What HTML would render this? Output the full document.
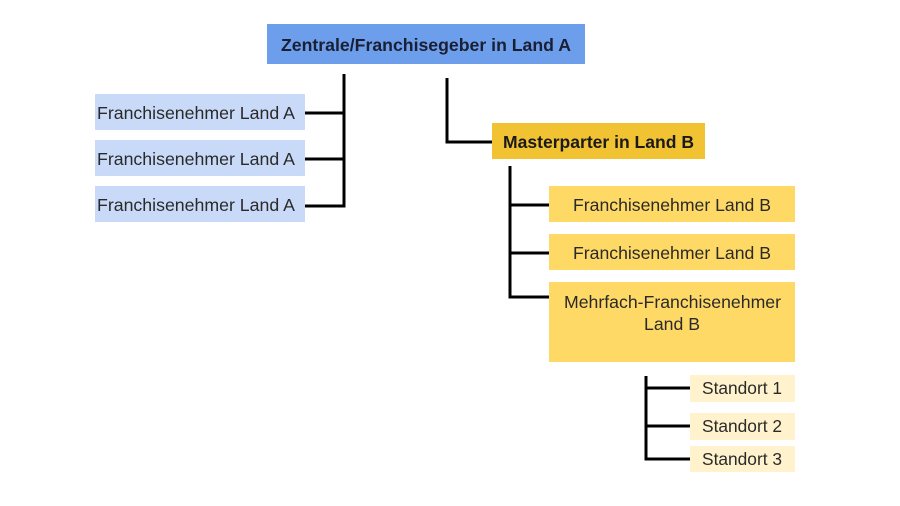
<!DOCTYPE html>
<html><head><meta charset="utf-8"><style>
html,body{margin:0;padding:0;background:#fff;}
svg{display:block;}
text{font-family:"Liberation Sans",Arial,sans-serif;fill:#2a2a2a;font-size:17.5px;}
</style></head><body>
<svg width="900" height="506" viewBox="0 0 900 506" xmlns="http://www.w3.org/2000/svg">
<rect x="267" y="24" width="318" height="40" fill="#6d9eeb"/>
<text x="281" y="51" textLength="290" lengthAdjust="spacingAndGlyphs" font-weight="bold" style="fill:#1a1f33">Zentrale/Franchisegeber in Land A</text>

<rect x="95" y="94" width="210" height="36" fill="#c9daf8"/>
<rect x="95" y="140" width="210" height="36" fill="#c9daf8"/>
<rect x="95" y="186" width="210" height="36" fill="#c9daf8"/>
<text x="97" y="119" textLength="198" lengthAdjust="spacingAndGlyphs">Franchisenehmer Land A</text>
<text x="97" y="165" textLength="198" lengthAdjust="spacingAndGlyphs">Franchisenehmer Land A</text>
<text x="97" y="211" textLength="198" lengthAdjust="spacingAndGlyphs">Franchisenehmer Land A</text>
<g stroke="#000" stroke-width="3" fill="none">
<path d="M344 74 V206 H305"/>
<path d="M305 113 H344"/>
<path d="M305 159 H344"/>
<path d="M447 78 V142 H492"/>
<path d="M510 166 V297 H549"/>
<path d="M510 205 H549"/>
<path d="M510 253 H549"/>
<path d="M646 376 V459 H690"/>
<path d="M646 388 H690"/>
<path d="M646 426 H690"/>
</g>

<rect x="492" y="123" width="213" height="36" fill="#f1c232"/>
<text x="503" y="148" textLength="191" lengthAdjust="spacingAndGlyphs" font-weight="bold" style="fill:#1a1a1a">Masterparter in Land B</text>

<rect x="549" y="186" width="246" height="36" fill="#ffd966"/>
<rect x="549" y="234" width="246" height="36" fill="#ffd966"/>
<rect x="549" y="282" width="246" height="80" fill="#ffd966"/>
<text x="573" y="211" textLength="198" lengthAdjust="spacingAndGlyphs">Franchisenehmer Land B</text>
<text x="573" y="259" textLength="198" lengthAdjust="spacingAndGlyphs">Franchisenehmer Land B</text>
<text x="564" y="308" textLength="217" lengthAdjust="spacingAndGlyphs">Mehrfach-Franchisenehmer</text>
<text x="644" y="330" textLength="56" lengthAdjust="spacingAndGlyphs">Land B</text>

<rect x="690" y="375" width="105" height="27" fill="#fff2cc"/>
<rect x="690" y="413" width="105" height="27" fill="#fff2cc"/>
<rect x="690" y="446" width="105" height="26" fill="#fff2cc"/>
<text x="702" y="394" textLength="80" lengthAdjust="spacingAndGlyphs">Standort 1</text>
<text x="702" y="432" textLength="80" lengthAdjust="spacingAndGlyphs">Standort 2</text>
<text x="702" y="465" textLength="80" lengthAdjust="spacingAndGlyphs">Standort 3</text>
</svg>
</body></html>
